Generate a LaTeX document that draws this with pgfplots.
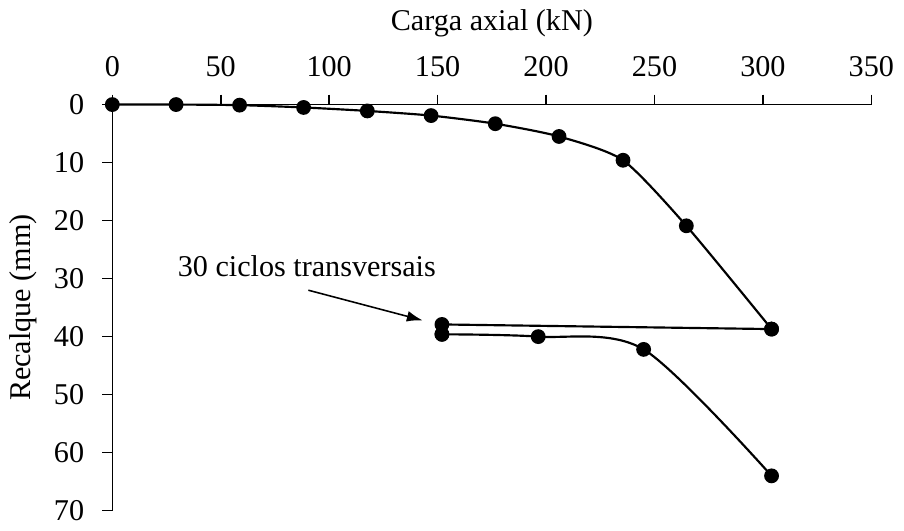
\documentclass[border=0pt]{standalone}
\usepackage{pgfplots}
\pgfplotsset{compat=1.18}
\usetikzlibrary{arrows.meta}
\usepackage{fontspec}
\setmainfont{Liberation Serif}

\begin{document}
\fontsize{15.3bp}{18bp}\selectfont
\begin{tikzpicture}
\begin{axis}[
    scale only axis,
    width=385bp, height=206bp,
    xmin=0, xmax=350, ymin=0, ymax=70,
    y dir=reverse,
    axis x line*=top,
    axis y line*=left,
    axis line style={line width=0.8pt},
    xtick={0,50,...,350},
    ytick={0,10,...,70},
    tick align=outside,
    major tick length=5bp,
    tick style={line width=0.8pt, black},
    xlabel={Carga axial (kN)},
    ylabel={Recalque (mm)},
    /pgf/number format/assume math mode=true,
    ticklabel style={font=\fontsize{15.3bp}{18bp}\selectfont},
    label style={font=\fontsize{15.3bp}{18bp}\selectfont},
    xticklabel style={yshift=4bp},
    yticklabel style={xshift=-4bp},
    xlabel style={yshift=-1bp},
    ylabel style={yshift=-2bp},
    clip=false,
]
\addplot[black, line width=1.1pt, smooth, tension=0.4,
    mark=*, mark size=3.2bp, mark options={fill=black}]
coordinates {
    (0,0) (29.4,0.0) (58.7,0.1) (88.2,0.5) (117.6,1.1) (147,1.9)
    (176.6,3.3) (206,5.5) (235.5,9.6) (264.7,20.9) (304,38.7)
};
\addplot[black, line width=1.1pt, mark=*, mark size=3.2bp, mark options={fill=black}]
coordinates {
    (304,38.7) (152,37.9) (152,39.6)
};
\addplot[black, line width=1.1pt, smooth, tension=0.5,
    mark=*, mark size=3.2bp, mark options={fill=black}]
coordinates {
    (152,39.6) (196.4,40.0) (245,42.2) (304,64.0)
};
\node[anchor=center] at (axis cs:89.7,27.9) {30 ciclos transversais};
\draw[-{Latex[length=8bp,width=5.5bp]}, line width=0.8pt]
    (axis cs:90.4,32.0) -- (axis cs:143.1,37.2);
\end{axis}
\end{tikzpicture}
\end{document}
